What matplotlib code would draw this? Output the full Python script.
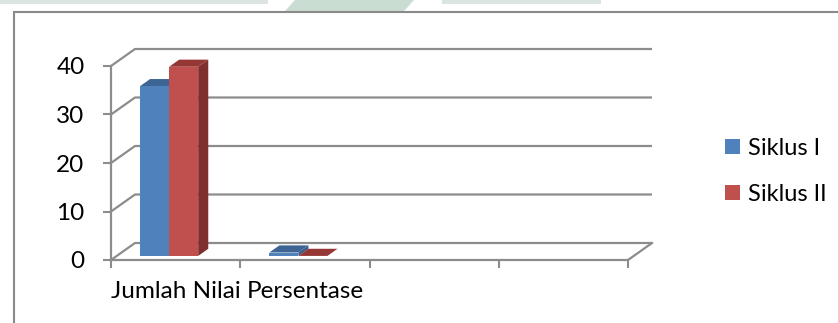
import numpy as np
import matplotlib.pyplot as plt
from matplotlib.patches import Polygon, Rectangle, Patch

plt.rcParams['font.family'] = ['Lato', 'DejaVu Sans']

# chart data
categories = ["Jumlah Nilai", "Persentase", "", ""]
series_names = ["Siklus I", "Siklus II"]
siklus_1 = [35, 0.7, np.nan, np.nan]
siklus_2 = [39, 0.0, np.nan, np.nan]
y_ticks = [0, 10, 20, 30, 40]

# colours (front, top, side)
blue = ("#4F81BD", "#3C6494", "#385D8A")
red = ("#C0504D", "#953735", "#7F2F2D")
grid_col = "#8C8C8C"

fig = plt.figure(figsize=(8.38, 3.23), dpi=100)
fig.patch.set_facecolor("white")

# faint scanned-page watermark at the very top
fig.add_artist(Rectangle((0, 0.988), 0.32, 0.02, transform=fig.transFigure,
                         color="#DCE4DF", lw=0))
fig.add_artist(Rectangle((0.527, 0.988), 0.19, 0.02, transform=fig.transFigure,
                         color="#DCE4DF", lw=0))
fig.add_artist(Polygon([(0.352, 1.0), (0.494, 1.0), (0.482, 0.965), (0.340, 0.965)],
                       closed=True, transform=fig.transFigure, color="#CADDD3", lw=0))

# chart area border
fig.add_artist(Rectangle((14 / 838, -0.1), 1.2, (323 - 12) / 323 + 0.1,
                         transform=fig.transFigure, fill=False,
                         edgecolor="#8A8A8A", lw=1.5))

ax = fig.add_axes([111 / 838, 63 / 323, 517 / 838, 194 / 323])
ax.set_xlim(0, 4)
ax.set_ylim(0, 40)
ax.set_facecolor("none")

# oblique depth vector (inches) turned into data units
DEPTH_X, DEPTH_Y = 0.24, 0.17
bb = ax.get_window_extent()
ddx = DEPTH_X * fig.dpi / bb.width * 4
ddy = DEPTH_Y * fig.dpi / bb.height * 40


def proj(x, y, d):
    return (x + d * ddx, y + d * ddy)


# back wall gridlines and left wall diagonals
for v in y_ticks:
    p0, p1 = proj(0, v, 0), proj(0, v, 1)
    p2 = proj(4, v, 1)
    ax.plot([p0[0], p1[0], p2[0]], [p0[1], p1[1], p2[1]], color=grid_col,
            lw=1.6, clip_on=False, zorder=1, solid_capstyle="butt")
# floor right edge
q0, q1 = proj(4, 0, 0), proj(4, 0, 1)
ax.plot([q0[0], q1[0]], [q0[1], q1[1]], color=grid_col, lw=1.6, clip_on=False, zorder=1)

# 3D bars
BAR_W = 0.225
PAIR_START = 0.18
D_FRONT, D_BACK = 0.24, 0.66

for s, (vals, cols) in enumerate([(siklus_1, blue), (siklus_2, red)]):
    for i, v in enumerate(vals):
        if np.isnan(v):
            continue
        x0 = i + PAIR_START + s * BAR_W
        x1 = x0 + BAR_W
        side = [proj(x1, 0, D_FRONT), proj(x1, v, D_FRONT),
                proj(x1, v, D_BACK), proj(x1, 0, D_BACK)]
        top = [proj(x0, v, D_FRONT), proj(x1, v, D_FRONT),
               proj(x1, v, D_BACK), proj(x0, v, D_BACK)]
        front = [proj(x0, 0, D_FRONT), proj(x1, 0, D_FRONT),
                 proj(x1, v, D_FRONT), proj(x0, v, D_FRONT)]
        ax.add_patch(Polygon(side, closed=True, facecolor=cols[2], lw=0,
                             clip_on=False, zorder=3))
        ax.add_patch(Polygon(top, closed=True, facecolor=cols[1], lw=0,
                             clip_on=False, zorder=3))
        ax.add_patch(Polygon(front, closed=True, facecolor=cols[0], lw=0,
                             clip_on=False, zorder=3))

# axes styling
for sp in ["top", "right"]:
    ax.spines[sp].set_visible(False)
for sp in ["left", "bottom"]:
    ax.spines[sp].set_color(grid_col)
    ax.spines[sp].set_linewidth(1.6)
    ax.spines[sp].set_zorder(2)

ax.set_yticks(y_ticks)
ax.set_yticklabels([str(t) for t in y_ticks], fontsize=17.5)
ax.tick_params(axis="y", length=6, width=1.5, color=grid_col, pad=13)

ax.set_xticks(range(len(categories) + 1))
ax.set_xticklabels([])
ax.set_xticks(np.arange(len(categories)) + 0.5, minor=True)
ax.set_xticklabels(categories, minor=True, fontsize=17.5)
ax.tick_params(axis="x", which="major", length=6, width=1.5, color=grid_col)
ax.tick_params(axis="x", which="minor", length=0, pad=15)

handles = [Patch(facecolor=blue[0]), Patch(facecolor=red[0])]
fig.legend(handles, series_names, loc="center left",
           bbox_to_anchor=(725 / 838, 0.47), frameon=False, fontsize=17,
           handlelength=0.62, handleheight=0.62, handletextpad=0.35,
           labelspacing=1.05, borderpad=0, borderaxespad=0)

fig.savefig("out.png", dpi=100)
